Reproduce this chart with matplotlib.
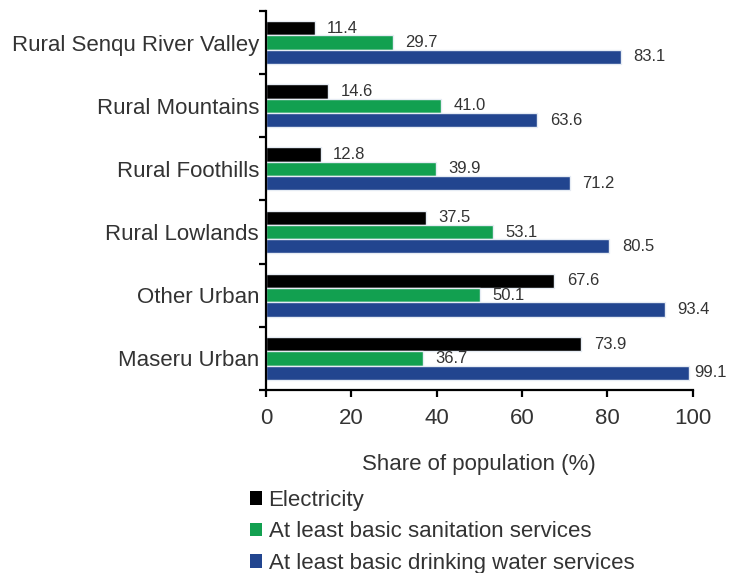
import matplotlib
matplotlib.use("Agg")
import matplotlib.pyplot as plt
import numpy as np
from matplotlib.patches import Patch

plt.rcParams['font.family'] = ['Liberation Sans', 'DejaVu Sans']

categories = ["Rural Senqu River Valley", "Rural Mountains", "Rural Foothills",
              "Rural Lowlands", "Other Urban", "Maseru Urban"]
electricity = [11.4, 14.6, 12.8, 37.5, 67.6, 73.9]
sanitation = [29.7, 41.0, 39.9, 53.1, 50.1, 36.7]
water = [83.1, 63.6, 71.2, 80.5, 93.4, 99.1]
series_names = ["Electricity", "At least basic sanitation services",
                "At least basic drinking water services"]
colors = ["#000000", "#12A050", "#22458F"]
xticks = [0, 20, 40, 60, 80, 100]

fig = plt.figure(figsize=(7.32, 5.73), dpi=100)
ax = fig.add_axes([0.3634, 0.3194, 0.5829, 0.6614])

y = np.arange(len(categories))
h = 0.226
offsets = [-h, 0, h]
text_color = "#333333"
for vals, off, col in zip([electricity, sanitation, water], offsets, colors):
    ax.barh(y + off, vals, height=h, color=col, edgecolor="#e6ecf4", linewidth=1.0)
    for yy, v in zip(y + off, vals):
        dx = 4 if v > 97 else 9
        ax.annotate(f"{v:.1f}", (v, yy), xytext=(dx, 0), textcoords="offset points",
                    ha="left", va="center", fontsize=12, color=text_color)

ax.set_ylim(len(categories) - 0.5, -0.5)
ax.set_xlim(0, 100)
ax.set_yticks(y)
ax.set_yticklabels(categories, fontsize=16, color=text_color)
ax.set_yticks(np.arange(-0.5, len(categories), 1), minor=True)
ax.tick_params(axis='y', which='major', length=0, pad=5)
ax.tick_params(axis='y', which='minor', length=5, width=1.6, direction='out')
ax.set_xticks(xticks)
ax.set_xticklabels([str(t) for t in xticks], fontsize=16, color=text_color)
ax.tick_params(axis='x', length=5, width=1.6, direction='out', pad=8)
for s in ['top', 'right']:
    ax.spines[s].set_visible(False)
for s in ['left', 'bottom']:
    ax.spines[s].set_linewidth(1.6)
ax.set_xlabel("Share of population (%)", fontsize=16, color=text_color, labelpad=18)

handles = [Patch(facecolor=c, edgecolor='none') for c in colors]
fig.legend(handles, series_names, loc='upper left', bbox_to_anchor=(0.341, 0.145),
           frameon=False, fontsize=16, handlelength=0.55, handleheight=0.55,
           handletextpad=0.3, labelspacing=0.47, borderaxespad=0, borderpad=0,
           labelcolor=text_color)

fig.savefig("out.png", dpi=100)
